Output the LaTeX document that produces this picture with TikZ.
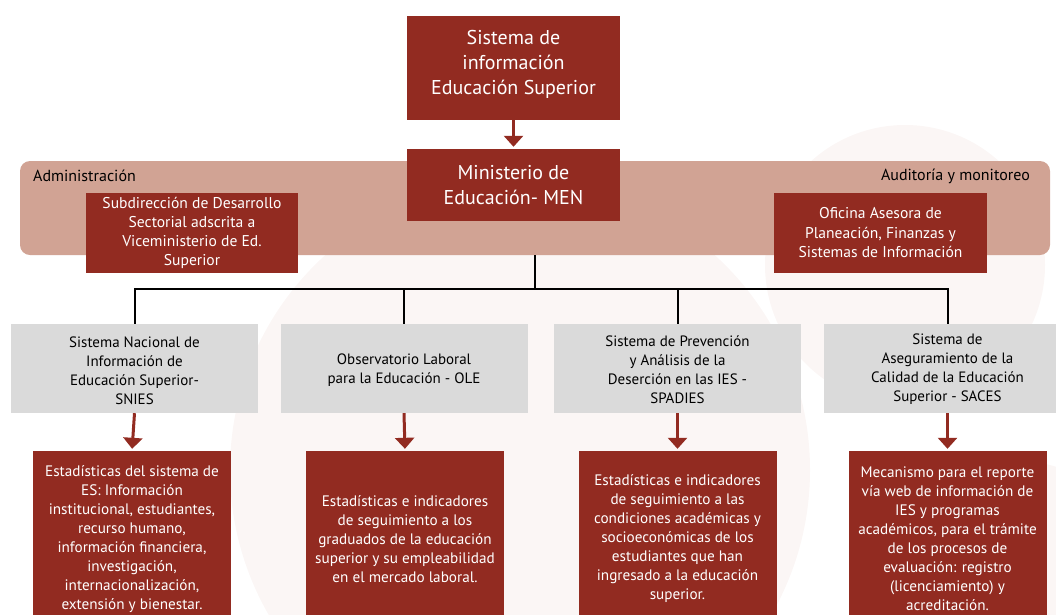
\documentclass[tikz,border=0pt]{standalone}
\usepackage{fontspec}
\setmainfont{PT Sans}
\usetikzlibrary{arrows.meta}
\definecolor{dred}{HTML}{922B21}
\definecolor{bandc}{HTML}{D1A394}
\definecolor{greyc}{HTML}{DADADA}
\definecolor{wmark}{HTML}{FBF6F5}
\tikzset{
  redbox/.style={fill=dred, text=white, align=center, inner sep=0pt, font=\fontsize{15.2}{19}\selectfont},
  bigred/.style={fill=dred, text=white, align=center, inner sep=0pt, font=\fontsize{20}{25}\selectfont},
  bigtext/.style={text=white, align=center, inner sep=0pt, font=\fontsize{20}{25}\selectfont},
  greybox/.style={fill=greyc, text=black, align=center, inner sep=0pt, minimum width=247pt, minimum height=89pt},
  greytext/.style={text=black, align=center, inner sep=0pt, font=\fontsize{15}{19}\selectfont},
  infobox/.style={redbox, minimum width=198pt, minimum height=176pt},
  bandlabel/.style={text=black, inner sep=0pt, font=\fontsize{16}{19}\selectfont},
  tree/.style={draw=black, line width=2pt},
  redarrow/.style={draw=dred, line width=3pt, -{Triangle[width=19pt,length=11pt]}, shorten >=2pt}
}
\begin{document}
\begin{tikzpicture}[x=1pt,y=-1pt]
\useasboundingbox (0,0) rectangle (1056,614);
\clip (0,0) rectangle (1056,614);
% faint watermark
\fill[wmark] (520,470) circle (290);
\fill[wmark] (905,265) circle (140);
\fill[wmark] (1010,620) circle (160);
% band
\node[fill=bandc, rounded corners=10pt, minimum width=1030pt, minimum height=94pt, inner sep=0pt] (band) at (535,208) {};
\node[bandlabel, anchor=west] (adm) at (33,176) {Administración};
\node[bandlabel, anchor=east] (aud) at (1030,176) {Auditoría y monitoreo};
% top boxes
\node[bigred, minimum width=213pt, minimum height=104pt] (sis) at (513.5,68) {};
\node[bigtext] (sistext) at (513.5,64) {Sistema de\\información\\Educación Superior};
\node[bigred, minimum width=213pt, minimum height=72pt] (men) at (513.5,185) {Ministerio de\\Educación- MEN};
\draw[redarrow] (sis.south) -- (men.north);
\node[redbox, font=\fontsize{15.6}{19}\selectfont, minimum width=212pt, minimum height=80pt] (sub) at (192,233) {Subdirección de Desarrollo\\Sectorial adscrita a\\Viceministerio de Ed.\\Superior};
\node[redbox, font=\fontsize{15.6}{19.5}\selectfont, minimum width=213pt, minimum height=80pt] (ofi) at (880.5,233) {Oficina Asesora de\\Planeación, Finanzas y\\Sistemas de Información};
% grey boxes
\node[greybox] (g1) at (134.5,368.5) {};
\node[greybox] (g2) at (404,368.5) {};
\node[greybox] (g3) at (677.5,368.5) {};
\node[greybox] (g4) at (947.5,368.5) {};
\node[greytext] (t1) at (134.5,371) {Sistema Nacional de\\Información de\\Educación Superior-\\SNIES};
\node[greytext] (t2) at (404,370) {Observatorio Laboral\\para la Educación - OLE};
\node[greytext] (t3) at (677.5,369.5) {Sistema de Prevención\\y Análisis de la\\Deserción en las IES -\\SPADIES};
\node[greytext] (t4) at (947.5,369.5) {Sistema de\\Aseguramiento de la\\Calidad de la Educación\\Superior - SACES};
% tree
\coordinate (j) at (535,289);
\draw[tree] (band.south) -- (j);
\draw[tree] (g1.north) -- (g1.north |- j) -- (g4.north |- j) -- (g4.north);
\draw[tree] (g2.north) -- (g2.north |- j);
\draw[tree] (g3.north) -- (g3.north |- j);
% info boxes
\node[infobox] (r1) at (132,539) {Estadísticas del sistema de\\ES: Información\\institucional, estudiantes,\\recurso humano,\\información financiera,\\investigación,\\internacionalización,\\extensión y bienestar.};
\node[infobox] (r2) at (405,539) {Estadísticas e indicadores\\de seguimiento a los\\graduados de la educación\\superior y su empleabilidad\\en el mercado laboral.};
\node[infobox] (r3) at (677.5,539) {Estadísticas e indicadores\\de seguimiento a las\\condiciones académicas y\\socioeconómicas de los\\estudiantes que han\\ingresado a la educación\\superior.};
\node[infobox] (r4) at (947.5,539) {Mecanismo para el reporte\\vía web de información de\\IES y programas\\académicos, para el trámite\\de los procesos de\\evaluación: registro\\(licenciamiento) y\\acreditación.};
\draw[redarrow] (g1.south) -- (r1.north);
\draw[redarrow] (g2.south) -- (r2.north);
\draw[redarrow] (g3.south) -- (r3.north);
\draw[redarrow] (g4.south) -- (r4.north);
\end{tikzpicture}
\end{document}
